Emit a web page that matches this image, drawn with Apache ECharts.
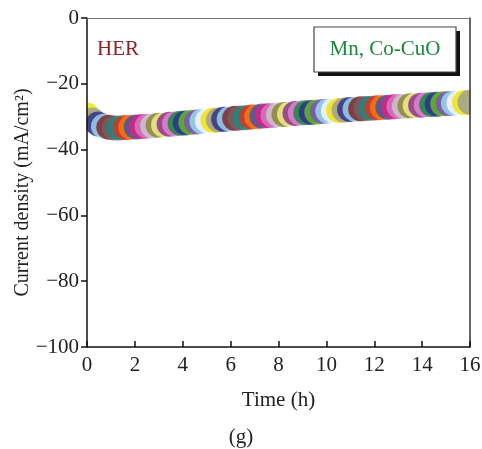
<!DOCTYPE html>
<html>
<head>
<meta charset="utf-8">
<script src="https://cdn.jsdelivr.net/npm/echarts@6/dist/echarts.min.js"></script>
<style>html,body{margin:0;padding:0;background:#fff;}#c{width:482px;height:449px;}</style>
</head>
<body>
<div id="c"></div>
<script>
var timeH = [0.00,0.23,0.46,0.69,0.91,1.14,1.37,1.60,1.83,2.06,2.29,2.51,2.74,2.97,3.20,3.43,3.66,3.89,4.11,4.34,4.57,4.80,5.03,5.26,5.49,5.71,5.94,6.17,6.40,6.63,6.86,7.09,7.31,7.54,7.77,8.00,8.23,8.46,8.69,8.91,9.14,9.37,9.60,9.83,10.06,10.29,10.51,10.74,10.97,11.20,11.43,11.66,11.89,12.11,12.34,12.57,12.80,13.03,13.26,13.49,13.71,13.94,14.17,14.40,14.63,14.86,15.09,15.31,15.54,15.77,16.00];
var currentDensity = [-29.5,-31.0,-32.2,-32.9,-33.2,-33.4,-33.4,-33.3,-33.2,-33.1,-33.0,-32.9,-32.8,-32.6,-32.5,-32.3,-32.2,-32.0,-31.9,-31.7,-31.6,-31.4,-31.3,-31.1,-31.0,-30.8,-30.7,-30.5,-30.4,-30.3,-30.1,-30.0,-29.8,-29.7,-29.6,-29.4,-29.3,-29.2,-29.0,-28.9,-28.8,-28.7,-28.6,-28.4,-28.3,-28.2,-28.1,-28.0,-27.8,-27.7,-27.6,-27.5,-27.4,-27.3,-27.2,-27.1,-27.0,-26.9,-26.8,-26.7,-26.6,-26.5,-26.4,-26.3,-26.2,-26.1,-26.0,-25.9,-25.8,-25.7,-25.6];
var xTicks = [0,2,4,6,8,10,12,14,16];
var yTicks = [0,-20,-40,-60,-80,-100];
var palette = ['#f2e200','#9a9a9a','#2b2b88','#9fdcf2','#861c1c','#666666','#1c8a86','#e4301c','#f87c0c','#3c50ae','#e41e80','#d47cc8','#cbcbcb','#86862c','#f8f090','#8c2494','#de8ad2','#0f8a3a','#2c2c90','#6cc01c','#7e50c0','#9cdef2','#fafafa'];

var serif = '"Liberation Serif","DejaVu Serif",serif';
var FS = 21;
var chart = echarts.init(document.getElementById('c'));
var pts = timeH.map(function(t,i){
  return {value:[t,currentDensity[i]], itemStyle:{color:palette[i % palette.length]}};
});
function minus(v){ return String(v).replace('-', '\u2212'); }
chart.setOption({
  animation:false,
  backgroundColor:'#fff',
  grid:{left:87,right:12,top:18,bottom:102,show:false,containLabel:false,outerBoundsMode:'none'},
  xAxis:[{
    type:'value',min:0,max:16,interval:2,z:10,
    name:'Time (h)',nameLocation:'middle',nameGap:43,nameMoveOverlap:false,
    nameTextStyle:{fontFamily:serif,fontSize:FS,color:'#222'},
    axisLine:{show:true,onZero:false,lineStyle:{color:'#111',width:1.5}},
    axisTick:{show:true,inside:true,length:6,lineStyle:{color:'#111',width:1.5}},
    axisLabel:{fontFamily:serif,fontSize:FS,color:'#222',margin:8},
    splitLine:{show:false}
  },{
    type:'value',min:0,max:16,position:'top',z:10,
    axisLine:{show:true,onZero:false,lineStyle:{color:'#777',width:1}},
    axisTick:{show:false},axisLabel:{show:false},splitLine:{show:false}
  }],
  yAxis:[{
    type:'value',min:-100,max:0,interval:20,z:10,
    name:'Current density (mA/cm\u00B2)',nameLocation:'middle',nameGap:54,nameRotate:90,nameMoveOverlap:false,
    nameTextStyle:{fontFamily:serif,fontSize:20,color:'#222',padding:[0,20,0,0]},
    axisLine:{show:true,onZero:false,lineStyle:{color:'#111',width:1.5}},
    axisTick:{show:true,inside:false,length:6,lineStyle:{color:'#111',width:1.5}},
    axisLabel:{fontFamily:serif,fontSize:FS,color:'#222',margin:8,formatter:minus},
    splitLine:{show:false}
  },{
    type:'value',min:-100,max:0,position:'right',z:10,
    axisLine:{show:true,onZero:false,lineStyle:{color:'#333',width:1.5}},
    axisTick:{show:false},axisLabel:{show:false},splitLine:{show:false}
  }],
  series:[{
    type:'scatter',symbol:'circle',symbolSize:25,clip:true,z:2,
    data:pts
  }],
  graphic:[
    {type:'rect',z:5,shape:{x:60,y:90,width:26.5,height:54},style:{fill:'#fff'}},
    {type:'rect',z:5,shape:{x:470.5,y:70,width:12,height:60},style:{fill:'#fff'}},
    {type:'text',z:6,x:97,y:49,style:{text:'HER',fontFamily:serif,fontSize:FS,fill:'#8b2424',verticalAlign:'middle'}},
    {type:'rect',z:6,shape:{x:318,y:31,width:142,height:45},style:{fill:'#111'}},
    {type:'rect',z:6,shape:{x:314,y:27,width:142,height:45},style:{fill:'#fff',stroke:'#444',lineWidth:1.2}},
    {type:'text',z:7,x:385,y:49.5,style:{text:'Mn, Co-CuO',fontFamily:serif,fontSize:FS,fill:'#17893a',align:'center',verticalAlign:'middle'}},
    {type:'text',z:6,x:241,y:437,style:{text:'(g)',fontFamily:serif,fontSize:FS,fill:'#222',align:'center',verticalAlign:'middle'}}
  ]
});
</script>
</body>
</html>
